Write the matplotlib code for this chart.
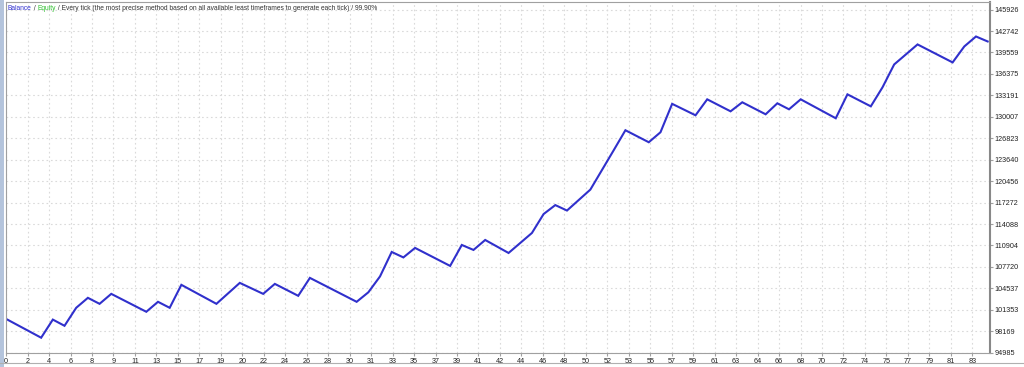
import numpy as np
import matplotlib
matplotlib.use("Agg")
import matplotlib.pyplot as plt
from matplotlib.offsetbox import TextArea, HPacker, AnchoredOffsetbox
from matplotlib.patches import Rectangle
from matplotlib.lines import Line2D

# balance curve, read at the kinks of the line (trade number, balance)
trade = [0, 3, 4, 5, 6, 7, 8, 9, 12, 13, 14, 15, 18, 20, 22, 23, 25, 26,
         30, 31, 32, 33, 34, 35, 38, 39, 40, 41, 43, 45, 46, 47, 48, 50,
         52, 53, 55, 56, 57, 59, 60, 62, 63, 65, 66, 67, 68, 71, 72, 74,
         75, 76, 78, 81, 82, 83, 84]
balance = [100000, 97210, 99900, 98980, 101650, 103130, 102240, 103720,
           101060, 102540, 101650, 105060, 102240, 105350, 103720, 105200,
           103430, 106090, 102540, 103950, 106310, 109940, 109130, 110540,
           107870, 110980, 110240, 111720, 109790, 112760, 115570, 116900,
           116090, 119200, 125050, 128010, 126230, 127710, 131930, 130230,
           132600, 130820, 132160, 130380, 132010, 131120, 132600, 129790,
           133340, 131560, 134380, 137780, 140750, 138080, 140450, 141930,
           141190]

y_ticks = [94985, 98169, 101353, 104537, 107720, 110904, 114088, 117272,
           120456, 123640, 126823, 130007, 133191, 136375, 139559, 142742,
           145926]
x_labels = ["0", "2", "4", "6", "8", "9", "11", "13", "15", "17", "19", "20",
            "22", "24", "26", "28", "30", "31", "33", "35", "37", "39", "41",
            "42", "44", "46", "48", "50", "52", "53", "55", "57", "59", "61",
            "63", "64", "66", "68", "70", "72", "74", "75", "77", "79", "81",
            "83"]

W, H = 1024, 367
fig = plt.figure(figsize=(W / 100, H / 100), dpi=100)
fig.patch.set_facecolor("white")

ax = fig.add_axes([5.5 / W, 14 / H, (990 - 5.5) / W, (365 - 14) / H])
ax.plot(trade, balance, color="#3030cc", lw=1.5, solid_joinstyle="miter")

# grid spacing of the tester window, in trade units
step = 1.8375
ax.set_xticks(np.arange(len(x_labels)) * step)
ax.set_xticklabels(x_labels)
ax.set_xlim(-0.05, 84.2)
ax.set_yticks(y_ticks)
ax.set_yticklabels([str(v) for v in y_ticks])
ax.set_ylim(94940, 147050)

ax.grid(True, color="#dadada", ls=(0, (1.5, 2.5)), lw=0.8)
ax.yaxis.tick_right()
for s in ax.spines.values():
    s.set_color("#a0a0a0")
    s.set_linewidth(0.8)
ax.spines["right"].set_color("#888888")
ax.spines["right"].set_linewidth(1.5)
ax.tick_params(axis="both", length=2, color="#a0a0a0", labelsize=5.2,
               labelcolor="#222222", pad=1.5)
for lab in ax.get_xticklabels() + ax.get_yticklabels():
    lab.set_family("Liberation Sans")

# header text
fs = 4.8
parts = [("Balance", "#3030d0"), (" / ", "#333333"), ("Equity", "#30c030"),
         (" / Every tick (the most precise method based on all available least "
          "timeframes to generate each tick) / 99.90%", "#333333")]
boxes = [TextArea(t, textprops=dict(color=c, fontsize=fs, family="Liberation Sans"))
         for t, c in parts]
pack = HPacker(children=boxes, align="baseline", pad=0, sep=0)
anchored = AnchoredOffsetbox(loc="upper left", child=pack, pad=0, borderpad=0,
                             frameon=False, bbox_to_anchor=(8 / W, 1 - 5.5 / H),
                             bbox_transform=fig.transFigure)
fig.add_artist(anchored)

# window chrome
fig.add_artist(Rectangle((0, 0), 4 / W, 1, transform=fig.transFigure,
                         facecolor="#b4c4dc", edgecolor="none"))
fig.add_artist(Line2D([0, 1], [1 - 362.5 / H] * 2, transform=fig.transFigure,
                      color="#b0b0b0", lw=0.8))

fig.savefig("out.png", dpi=100)
